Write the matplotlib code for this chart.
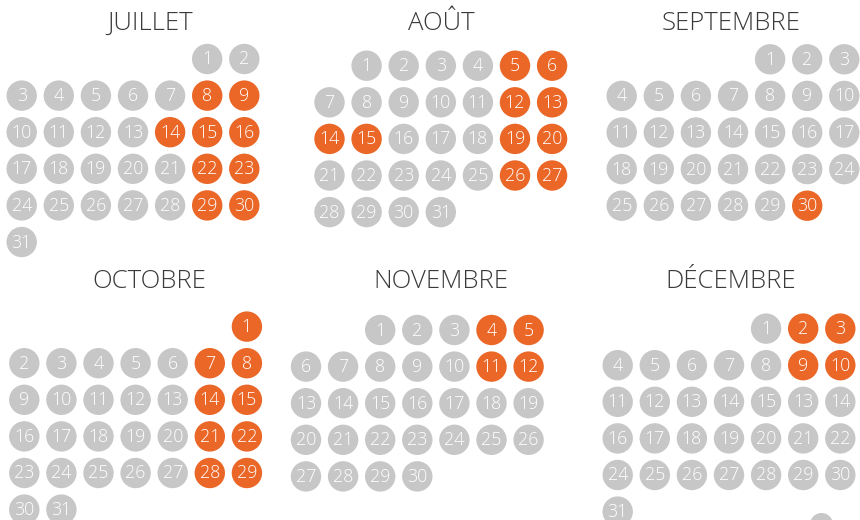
"""Calendrier juillet–décembre : jours en orange sur pastilles grises."""

import matplotlib

matplotlib.use("Agg")
import matplotlib.pyplot as plt

plt.rcParams["font.family"] = ["Open Sans", "DejaVu Sans"]

# --- données -------------------------------------------------------------
months = ["JUILLET", "AOÛT", "SEPTEMBRE", "OCTOBRE", "NOVEMBRE", "DÉCEMBRE"]
# décalage du 1er jour (0 = lundi)
first_weekday = [5, 1, 4, 6, 2, 4]
n_days = [31, 31, 30, 31, 30, 31]
# libellés tels qu'affichés (décembre comporte des libellés répétés)
december_labels = (
    [str(d) for d in range(1, 16)] + ["13", "14"]
    + [str(d) for d in range(16, 23)]
    + [str(d) for d in range(24, 32)]
)
highlighted = [
    [8, 9, 14, 15, 16, 22, 23, 29, 30],
    [5, 6, 12, 13, 14, 15, 19, 20, 26, 27],
    [30],
    [1, 7, 8, 14, 15, 21, 22, 28, 29],
    [4, 5, 11, 12],
    [2, 3, 9, 10],
]

# --- mise en page (pixels) -----------------------------------------------
W, H = 860, 520
grid_origin = [(21.7, 59.0), (329.5, 65.7), (621.7, 59.3),
               (24.3, 326.6), (306.0, 330.0), (617.7, 328.6)]
title_pos = [(150, 23), (441, 23), (731, 23),
             (149, 282), (441, 282), (731, 282)]
dx, dy = 37.1, 36.6
radius_px = 15.2
GREY = "#c6c7c6"
ORANGE = "#ea6727"

fig = plt.figure(figsize=(W / 100, H / 100), dpi=100)
ax = fig.add_axes([0, 0, 1, 1])
ax.set_xlim(0, W)
ax.set_ylim(H, 0)
ax.axis("off")

size = (2 * radius_px * 72 / 100) ** 2

for m, name in enumerate(months):
    x0, y0 = grid_origin[m]
    labels = december_labels if m == 5 else [str(d) for d in range(1, n_days[m] + 1)]
    xs, ys, cols = [], [], []
    for i, lab in enumerate(labels):
        cell = first_weekday[m] + i
        xs.append(x0 + (cell % 7) * dx)
        ys.append(y0 + (cell // 7) * dy)
        cols.append(ORANGE if (i + 1) in highlighted[m] else GREY)
    ax.scatter(xs, ys, s=size, c=cols, linewidths=0)
    for x, y, lab in zip(xs, ys, labels):
        ax.text(x, y + 0.5, lab, ha="center", va="center", color="white",
                fontsize=12.8, fontweight="light")
    tx, ty = title_pos[m]
    ax.text(tx, ty, name, ha="center", va="center", color="#3a3a3a",
            fontsize=18.5, fontweight="light")

# légende coupée en bas à droite
ax.scatter([821], [524], s=(2 * 11.5 * 72 / 100) ** 2, c=GREY, linewidths=0)

fig.savefig("out.png", dpi=100)
